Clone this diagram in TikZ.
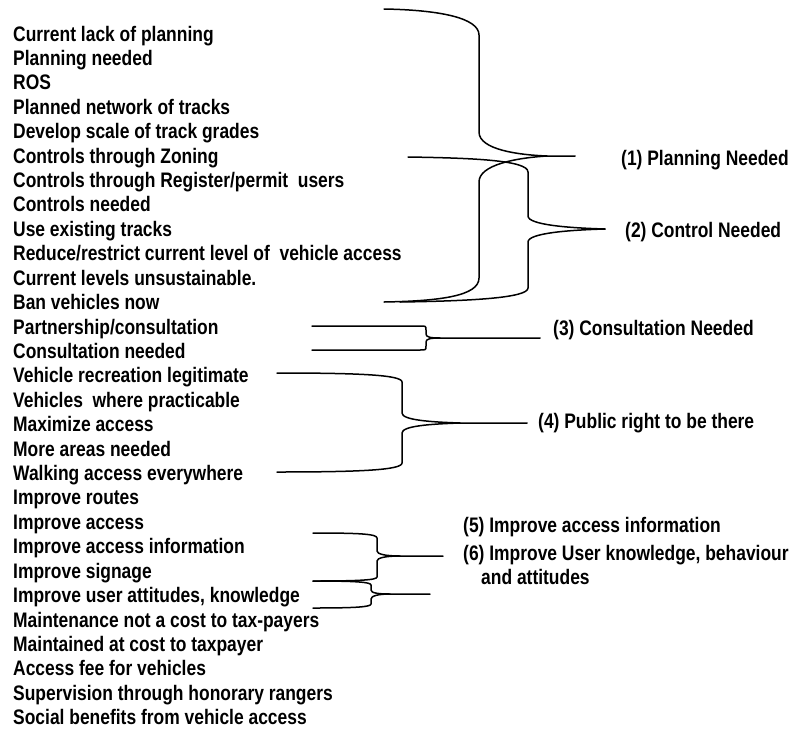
\documentclass[tikz,border=0pt]{standalone}
\usepackage{fontspec}
\setmainfont{Liberation Sans}[FakeStretch=0.83]
\begin{document}
\begin{tikzpicture}[x=1pt,y=-1pt,
  item/.style={anchor=base west, inner sep=0pt, font=\fontsize{21}{24}\selectfont\bfseries},
  brace/.style={line width=1.5pt, line join=round, line cap=round}]
\useasboundingbox (0,0) rectangle (794,728);
\foreach \t [count=\i from 0] in {Current lack of planning, Planning needed, ROS,
  Planned network of tracks, Develop scale of track grades, Controls through Zoning,
  Controls through Register/permit\ \ users, Controls needed, Use existing tracks,
  Reduce/restrict current level of\ \ vehicle access, Current levels unsustainable.,
  Ban vehicles now, Partnership/consultation, Consultation needed,
  Vehicle recreation legitimate, Vehicles\ \ where practicable, Maximize access,
  More areas needed, Walking access everywhere, Improve routes, Improve access,
  Improve access information, Improve signage, {Improve user attitudes, knowledge},
  Maintenance not a cost to tax-payers, Maintained at cost to taxpayer,
  Access fee for vehicles, Supervision through honorary rangers,
  Social benefits from vehicle access}
  \node[item] (t\i) at (13,{41+24.42*\i}) {\t};

% labels
\node[item] (l1) at (621,165) {(1) Planning Needed};
\node[item] (l2) at (625,237) {(2) Control Needed};
\node[item] (l3) at (553,335) {(3) Consultation Needed};
\node[item] (l4) at (538,428) {(4) Public right to be there};
\node[item] (l5) at (463,532) {(5) Improve access information};
\node[item] (l6) at (463,560) {(6) Improve User knowledge, behaviour};
\node[item] (l6b) at (481,584) {and attitudes};

% brace 1
\draw[brace] (384,9) .. controls (440,10) and (479,18) .. (479,35) -- (479,132)
  .. controls (479,150) and (520,155) .. (547,156) -- (575,156);
\draw[brace] (547,156) .. controls (515,158) and (479,165) .. (479,182) -- (479,278)
  .. controls (479,296) and (440,301) .. (384,302);
% brace 2
\draw[brace] (408,157) .. controls (470,158) and (528,160) .. (528,172) -- (528,216)
  .. controls (528,225) and (570,228) .. (605,229);
\draw[brace] (605,229) .. controls (570,230) and (528,233) .. (528,242) -- (528,288)
  .. controls (528,298) and (470,301) .. (400,302);
% brace 3
\draw[brace] (312,326) -- (420,326) .. controls (426,326) .. (426,330) -- (426,334)
  .. controls (426,337) and (430,338) .. (440,338) -- (540,338);
\draw[brace] (440,338) .. controls (430,338) and (426,339) .. (426,342) -- (426,346)
  .. controls (426,350) .. (420,350) -- (312,350);
% brace 4
\draw[brace] (277,373) .. controls (360,373) and (402,375) .. (402,382) -- (402,413)
  .. controls (402,420) and (430,422) .. (460,423) -- (527,423);
\draw[brace] (460,423) .. controls (430,424) and (402,426) .. (402,433) -- (402,463)
  .. controls (402,470) and (360,472) .. (277,472);
% brace 5
\draw[brace] (313,533) .. controls (360,533) and (377,534) .. (377,538) -- (377,551)
  .. controls (377,554) and (385,556) .. (400,556) -- (443,556);
\draw[brace] (400,556) .. controls (385,556) and (377,558) .. (377,561) -- (377,577)
  .. controls (377,580) and (360,581) .. (313,581);
% brace 6
\draw[brace] (313,581) .. controls (355,581) and (371,582) .. (371,585) -- (371,590)
  .. controls (371,593) and (378,594) .. (390,594) -- (430,594);
\draw[brace] (390,594) .. controls (378,594) and (371,596) .. (371,599) -- (371,604)
  .. controls (371,607) and (355,608) .. (313,608);
\end{tikzpicture}
\end{document}
